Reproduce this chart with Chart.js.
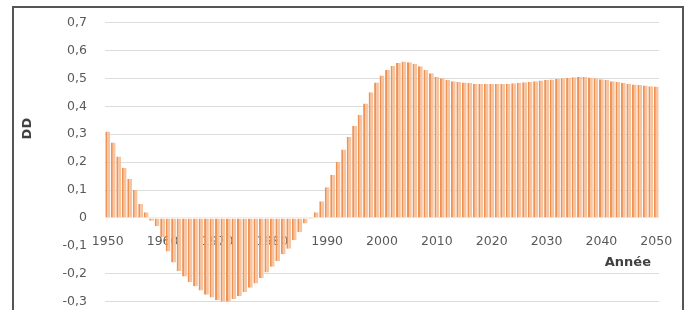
<!DOCTYPE html>
<html>
<head>
<meta charset="utf-8">
<script src="https://cdn.jsdelivr.net/npm/chart.js@4/dist/chart.umd.min.js"></script>
<style>
  html, body { margin: 0; padding: 0; background: #ffffff; }
  #wrap { position: relative; width: 691px; height: 310px; overflow: hidden; }
  #frame { position: absolute; left: 12px; top: 6px; width: 672px; height: 330px;
           border: 2px solid #555555; box-sizing: border-box; }
  canvas { position: absolute; left: 0; top: 0; }
</style>
</head>
<body>
<div id="wrap">
  <div id="frame"></div>
  <canvas id="c" width="691" height="310"></canvas>
</div>
<script>
const years = [
  '1950','1951','1952','1953','1954','1955','1956','1957','1958','1959',
  '1960','1961','1962','1963','1964','1965','1966','1967','1968','1969',
  '1970','1971','1972','1973','1974','1975','1976','1977','1978','1979',
  '1980','1981','1982','1983','1984','1985','1986','1987','1988','1989',
  '1990','1991','1992','1993','1994','1995','1996','1997','1998','1999',
  '2000','2001','2002','2003','2004','2005','2006','2007','2008','2009',
  '2010','2011','2012','2013','2014','2015','2016','2017','2018','2019',
  '2020','2021','2022','2023','2024','2025','2026','2027','2028','2029',
  '2030','2031','2032','2033','2034','2035','2036','2037','2038','2039',
  '2040','2041','2042','2043','2044','2045','2046','2047','2048','2049',
  '2050'
];
const ddValues = [
  0.31, 0.27, 0.22, 0.18, 0.14, 0.10, 0.05, 0.02, -0.01, -0.03,
  -0.07, -0.12, -0.16, -0.19, -0.21, -0.23, -0.245, -0.26, -0.275, -0.285,
  -0.295, -0.30, -0.30, -0.29, -0.28, -0.265, -0.25, -0.235, -0.215, -0.195,
  -0.175, -0.155, -0.13, -0.11, -0.08, -0.05, -0.02, -0.005, 0.02, 0.06,
  0.11, 0.155, 0.20, 0.245, 0.29, 0.33, 0.37, 0.41, 0.45, 0.485,
  0.51, 0.53, 0.545, 0.555, 0.56, 0.558, 0.552, 0.543, 0.53, 0.518,
  0.505, 0.50, 0.495, 0.49, 0.487, 0.485, 0.483, 0.481, 0.48, 0.48,
  0.48, 0.48, 0.48, 0.481, 0.482, 0.484, 0.486, 0.488, 0.49, 0.492,
  0.494, 0.496, 0.498, 0.50, 0.502, 0.504, 0.505, 0.505, 0.503, 0.50,
  0.497, 0.494, 0.49, 0.487, 0.484, 0.481, 0.478, 0.476, 0.474, 0.472,
  0.471
];
const xTickLabels = ['1950','1960','1970','1980','1990','2000','2010','2020','2030','2040','2050'];
const yMin = -0.3, yMax = 0.7, yStep = 0.1;
const yTitle = 'DD';
const xTitle = 'Année';

const tickFont = { family: 'DejaVu Sans', size: 12.5 };
const tickColor = '#595959';

const titlePlugin = {
  id: 'axisTitles',
  afterDraw(chart) {
    const { ctx, chartArea, scales } = chart;
    ctx.save();
    ctx.fillStyle = '#404040';
    ctx.font = 'bold 13px "DejaVu Sans"';
    ctx.textAlign = 'center';
    ctx.textBaseline = 'middle';
    ctx.save();
    ctx.translate(chartArea.left - 77, scales.y.getPixelForValue(0.32));
    ctx.rotate(-Math.PI / 2);
    ctx.fillText(yTitle, 0, 0);
    ctx.restore();
    ctx.textAlign = 'right';
    ctx.fillText(xTitle, chartArea.right - 8, scales.y.getPixelForValue(0) + 45);
    ctx.restore();
  }
};

new Chart(document.getElementById('c'), {
  type: 'bar',
  data: {
    labels: years,
    datasets: [{
      label: yTitle,
      data: ddValues,
      backgroundColor: '#F7C4A0',
      borderColor: '#EE9256',
      borderWidth: { left: 2, right: 0, top: 0, bottom: 0 },
      borderSkipped: false,
      barPercentage: 1.0,
      categoryPercentage: 0.88
    }]
  },
  options: {
    responsive: false,
    animation: false,
    layout: { padding: { left: 14, right: 32, top: 22.5, bottom: 8.3 } },
    plugins: {
      legend: { display: false },
      tooltip: { enabled: false }
    },
    scales: {
      x: {
        type: 'category',
        position: { y: 0 },
        offset: true,
        z: 1,
        grid: { display: false },
        border: { display: false },
        ticks: {
          autoSkip: false,
          maxRotation: 0,
          minRotation: 0,
          padding: 8,
          font: tickFont,
          color: tickColor,
          callback: function (val, idx) {
            const lab = years[idx];
            return xTickLabels.includes(lab) ? lab : '';
          }
        }
      },
      y: {
        min: yMin,
        max: yMax,
        afterFit: function (scale) { scale.width = 91; },
        grid: {
          drawTicks: true,
          tickLength: 18,
          tickColor: 'rgba(0,0,0,0)',
          lineWidth: 1,
          color: function (ctx) {
            const v = ctx.tick ? ctx.tick.value : null;
            if (v === null) return '#dcdcdc';
            if (Math.abs(v) < 1e-9) return '#eeeeee';
            if (Math.abs(v + 0.1) < 1e-9) return 'rgba(0,0,0,0)';
            return '#dcdcdc';
          }
        },
        border: { display: false },
        ticks: {
          stepSize: yStep,
          padding: 0,
          font: tickFont,
          color: tickColor,
          callback: function (v) {
            if (Math.abs(v) < 1e-9) return '0';
            return v.toFixed(1).replace('.', ',');
          }
        }
      }
    }
  },
  plugins: [titlePlugin]
});
</script>
</body>
</html>
